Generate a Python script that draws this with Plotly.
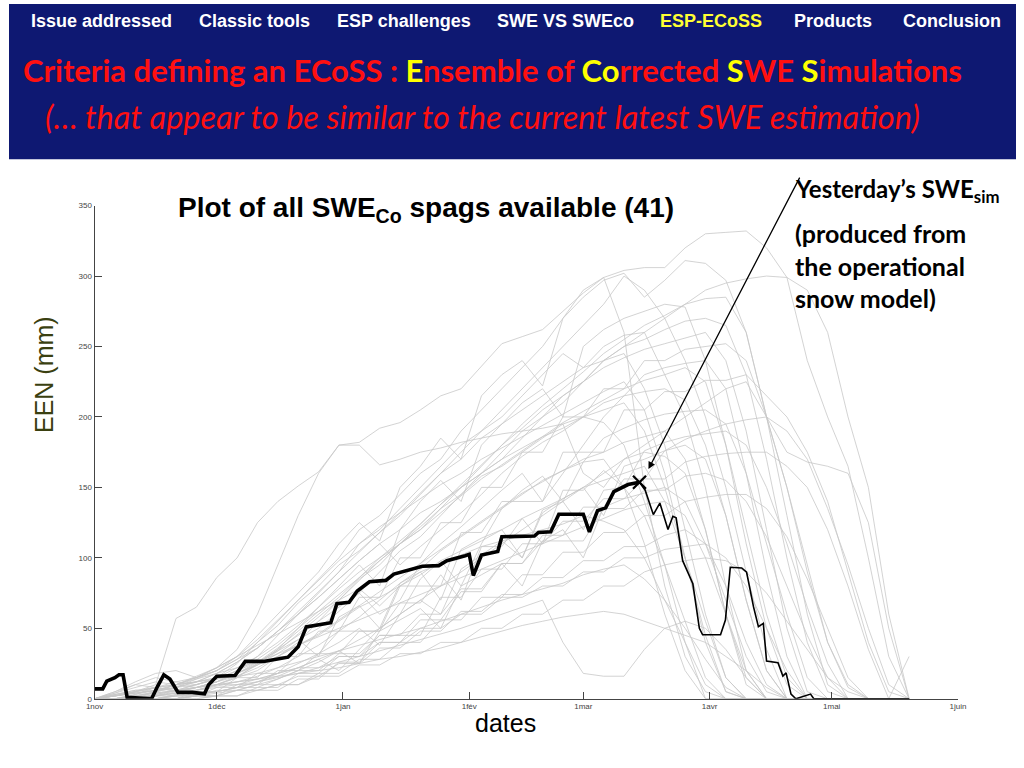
import plotly.graph_objects as go

# ---------------- data ----------------
tick_days = [0, 30, 61, 92, 120, 151, 181, 212]
tick_labels = ["1nov", "1déc", "1jan", "1fév", "1mar", "1avr", "1mai", "1juin"]
y_ticks = [0, 50, 100, 150, 200, 250, 300, 350]

# grid of days (days since 1 Nov) used by the grey spaghetti curves
spag_days = [0, 5, 10, 15, 20, 25, 30, 35, 40, 45,
             50, 55, 60, 65, 70, 75, 80, 85, 90, 95,
             100, 105, 110, 115, 120, 125, 130, 135, 140, 145,
             150, 155, 160, 165, 170, 175, 180, 185, 190, 195, 200]

spag_01 = [0, 2, 5, 10, 57, 65, 86, 100, 125, 140, 151, 161, 180, 182, 192, 196, 205, 215, 220, 236,
           252, 257, 262, 275, 288, 299, 304, 306, 306, 320, 330, 331, 332, 320, 299, 240, 200, 165, 100, 30, 0]
spag_02 = [0, 0, 3, 8, 12, 15, 20, 30, 45, 60, 75, 90, 110, 125, 112, 150, 165, 185, 170, 215,
           230, 240, 222, 270, 285, 297, 302, 285, 297, 311, 309, 297, 260, 200, 150, 90, 40, 10, 0, 0, 0]
spag_03 = [0, 0, 0, 5, 10, 12, 15, 25, 40, 55, 70, 85, 100, 120, 130, 145, 160, 170, 190, 205,
           220, 235, 250, 270, 290, 299, 260, 150, 80, 30, 5, 0, 0, 0, 0, 0, 0, 0, 0, 0, 0]
spag_04 = [0, 0, 2, 4, 6, 8, 10, 15, 25, 35, 45, 55, 70, 85, 95, 110, 120, 135, 150, 160,
           170, 185, 200, 210, 225, 240, 250, 260, 270, 280, 290, 295, 298, 300, 299, 290, 260, 200, 150, 60, 0]
spag_05 = [0, 0, 0, 0, 0, 2, 4, 6, 10, 14, 20, 26, 34, 42, 50, 60, 70, 80, 90, 100,
           110, 120, 130, 140, 150, 160, 170, 180, 190, 200, 210, 220, 225, 200, 175, 168, 165, 160, 125, 50, 0]
spag_06 = [0, 0, 0, 2, 5, 8, 12, 18, 25, 35, 50, 65, 80, 95, 80, 120, 140, 155, 140, 180,
           195, 210, 220, 200, 250, 262, 270, 275, 280, 278, 240, 180, 110, 50, 10, 0, 0, 0, 0, 0, 0]
spag_07 = [0, 0, 0, 0, 3, 6, 10, 15, 20, 30, 40, 55, 65, 75, 90, 105, 115, 130, 145, 160,
           175, 190, 200, 215, 225, 240, 250, 255, 262, 268, 270, 265, 230, 170, 100, 40, 5, 0, 0, 0, 0]
spag_08 = [0, 2, 5, 8, 10, 8, 12, 20, 30, 45, 60, 75, 90, 110, 120, 135, 150, 165, 180, 190,
           200, 215, 230, 245, 235, 250, 258, 260, 230, 200, 150, 80, 20, 0, 0, 0, 0, 0, 0, 0, 0]
spag_09 = [0, 0, 0, 0, 0, 5, 5, 15, 15, 30, 30, 48, 48, 72, 72, 100, 100, 125, 125, 150,
           150, 175, 175, 200, 200, 220, 220, 240, 240, 248, 250, 252, 240, 200, 150, 95, 40, 8, 0, 0, 0]
spag_10 = [0, 3, 6, 5, 10, 15, 20, 28, 40, 52, 68, 80, 95, 105, 118, 130, 145, 160, 170, 185,
           195, 205, 215, 225, 235, 240, 245, 220, 180, 120, 60, 15, 0, 0, 0, 0, 0, 0, 0, 0, 0]
spag_11 = [0, 0, 0, 3, 6, 10, 14, 18, 24, 32, 42, 50, 62, 75, 60, 70, 96, 110, 122, 135,
           148, 160, 140, 160, 180, 200, 215, 230, 235, 238, 240, 220, 160, 90, 30, 0, 0, 0, 0, 0, 0]
spag_12 = [0, 0, 0, 0, 2, 2, 8, 8, 18, 18, 32, 32, 48, 48, 48, 80, 80, 80, 118, 118,
           140, 140, 140, 175, 175, 175, 205, 205, 218, 218, 226, 226, 230, 215, 200, 175, 140, 90, 40, 5, 0]
spag_13 = [0, 0, 2, 5, 8, 14, 20, 28, 36, 48, 60, 72, 85, 98, 110, 95, 108, 120, 132, 145,
           160, 172, 182, 190, 200, 210, 215, 218, 220, 212, 180, 130, 70, 20, 0, 0, 0, 0, 0, 0, 0]
spag_14 = [0, 4, 10, 15, 12, 10, 15, 22, 30, 40, 52, 65, 78, 90, 100, 110, 122, 135, 145, 158,
           165, 175, 185, 195, 200, 205, 210, 190, 150, 100, 45, 5, 0, 0, 0, 0, 0, 0, 0, 0, 0]
spag_15 = [0, 0, 0, 0, 0, 3, 5, 8, 12, 18, 25, 32, 40, 50, 38, 60, 85, 98, 80, 110,
           135, 148, 158, 140, 168, 185, 192, 198, 202, 204, 205, 195, 160, 110, 60, 15, 0, 0, 0, 0, 0]
spag_16 = [0, 2, 4, 6, 8, 12, 18, 26, 36, 48, 60, 72, 85, 98, 110, 120, 132, 140, 150, 160,
           170, 178, 186, 192, 200, 196, 180, 140, 95, 40, 0, 0, 0, 0, 0, 0, 0, 0, 0, 0, 0]
spag_17 = [0, 0, 0, 2, 4, 6, 9, 12, 16, 22, 30, 38, 48, 58, 70, 82, 92, 105, 115, 125,
           135, 145, 155, 162, 170, 175, 182, 186, 190, 170, 120, 60, 15, 0, 0, 0, 0, 0, 0, 0, 0]
spag_18 = [0, 0, 3, 6, 10, 15, 22, 35, 60, 95, 130, 160, 180, 180, 166, 170, 175, 178, 182, 185,
           188, 190, 192, 195, 160, 150, 170, 175, 172, 160, 120, 60, 10, 0, 0, 0, 0, 0, 0, 0, 0]
spag_19 = [0, 0, 0, 0, 2, 3, 5, 8, 12, 16, 22, 28, 20, 35, 50, 60, 70, 60, 92, 102,
           112, 100, 132, 142, 150, 130, 165, 170, 176, 180, 170, 130, 70, 20, 0, 0, 0, 0, 0, 0, 0]
spag_20 = [0, 0, 0, 0, 0, 0, 2, 2, 8, 8, 18, 18, 30, 30, 45, 45, 45, 72, 72, 92,
           92, 110, 110, 126, 126, 142, 142, 156, 156, 168, 172, 174, 175, 175, 165, 150, 120, 80, 35, 0, 0]
spag_21 = [0, 3, 5, 8, 10, 12, 15, 18, 24, 30, 38, 45, 55, 65, 72, 80, 88, 98, 105, 112,
           120, 128, 135, 142, 150, 155, 160, 165, 140, 100, 55, 15, 0, 0, 0, 0, 0, 0, 0, 0, 0]
spag_22 = [0, 0, 0, 2, 2, 5, 5, 8, 8, 14, 20, 20, 32, 32, 45, 45, 60, 60, 78, 78,
           96, 96, 112, 112, 112, 135, 135, 148, 148, 158, 160, 155, 140, 115, 80, 45, 15, 0, 0, 0, 0]
spag_23 = [0, 5, 10, 8, 6, 10, 14, 20, 26, 34, 42, 30, 58, 66, 50, 82, 90, 70, 106, 114,
           120, 100, 134, 140, 120, 148, 150, 130, 95, 55, 15, 0, 0, 0, 0, 0, 0, 0, 0, 0, 0]
spag_24 = [0, 0, 0, 0, 0, 2, 2, 6, 6, 10, 10, 18, 18, 28, 28, 40, 40, 56, 56, 72,
           72, 88, 88, 104, 104, 118, 118, 130, 130, 140, 143, 145, 145, 135, 115, 85, 50, 15, 0, 0, 0]
spag_25 = [0, 2, 4, 6, 10, 14, 18, 22, 26, 32, 38, 44, 50, 56, 62, 68, 74, 80, 86, 92,
           98, 104, 110, 116, 122, 128, 134, 138, 140, 130, 100, 60, 20, 0, 0, 0, 0, 0, 0, 0, 0]
spag_26 = [0, 4, 8, 12, 10, 16, 22, 30, 38, 46, 54, 62, 70, 78, 66, 80, 90, 96, 102, 108,
           112, 116, 120, 124, 130, 126, 120, 100, 70, 40, 10, 0, 0, 0, 0, 0, 0, 0, 0, 0, 0]
spag_27 = [0, 0, 0, 0, 2, 2, 6, 6, 10, 10, 16, 16, 25, 25, 36, 36, 48, 48, 62, 62,
           74, 74, 86, 86, 98, 98, 108, 108, 116, 120, 110, 80, 40, 10, 0, 0, 0, 0, 0, 0, 0]
spag_28 = [0, 0, 2, 2, 6, 6, 10, 10, 14, 18, 22, 22, 30, 30, 40, 40, 50, 50, 60, 60,
           72, 72, 80, 80, 90, 90, 100, 100, 106, 108, 110, 100, 80, 50, 20, 0, 0, 0, 0, 0, 0]
spag_29 = [0, 2, 5, 8, 10, 12, 14, 16, 18, 22, 26, 30, 34, 38, 42, 46, 50, 55, 60, 65,
           70, 74, 78, 82, 88, 92, 95, 85, 70, 50, 28, 8, 0, 0, 0, 0, 0, 0, 0, 0, 0]
spag_30 = [0, 0, 0, 2, 4, 6, 8, 10, 12, 15, 18, 22, 26, 30, 34, 38, 42, 46, 50, 55,
           60, 65, 70, 40, 18, 16, 16, 35, 50, 55, 50, 35, 15, 0, 0, 0, 0, 0, 0, 0, 0]
spag_31 = [0, 3, 6, 8, 5, 8, 10, 12, 14, 16, 18, 20, 22, 25, 28, 30, 33, 36, 40, 44,
           48, 52, 55, 58, 60, 62, 60, 55, 50, 45, 40, 30, 20, 8, 0, 0, 0, 0, 0, 0, 0]
spag_32 = [0, 0, 0, 0, 0, 2, 2, 10, 10, 20, 20, 32, 32, 48, 48, 68, 68, 88, 70, 108,
           108, 128, 110, 148, 148, 162, 150, 176, 182, 186, 188, 190, 180, 150, 110, 65, 25, 0, 0, 0, 0]
spag_33 = [0, 0, 0, 2, 4, 8, 12, 18, 26, 36, 48, 60, 72, 86, 100, 112, 124, 138, 150, 165,
           180, 192, 205, 215, 225, 235, 242, 248, 252, 256, 260, 240, 190, 120, 50, 5, 0, 0, 0, 0, 0]
spag_34 = [0, 0, 0, 0, 3, 6, 10, 16, 24, 34, 46, 58, 70, 84, 98, 110, 124, 138, 152, 166,
           180, 195, 208, 220, 232, 245, 255, 265, 272, 280, 284, 285, 260, 200, 130, 60, 10, 0, 0, 0, 0]
spag_35 = [0, 5, 12, 18, 20, 15, 22, 30, 42, 56, 70, 84, 98, 110, 122, 132, 142, 152, 160, 170,
           178, 186, 194, 202, 210, 218, 225, 205, 160, 100, 40, 5, 0, 0, 0, 0, 0, 0, 0, 0, 0]
spag_36 = [0, 0, 2, 4, 6, 8, 12, 16, 22, 30, 38, 46, 56, 66, 76, 86, 96, 106, 116, 126,
           136, 146, 154, 162, 168, 170, 150, 110, 60, 20, 0, 0, 0, 0, 0, 0, 0, 0, 0, 0, 0]
spag_37 = [0, 0, 0, 0, 0, 0, 2, 2, 6, 6, 14, 14, 26, 26, 40, 40, 56, 56, 76, 76,
           96, 96, 116, 116, 136, 136, 156, 156, 176, 184, 190, 195, 198, 200, 190, 170, 135, 95, 50, 10, 0]
spag_38 = [0, 0, 0, 3, 6, 8, 10, 12, 14, 18, 22, 28, 34, 25, 48, 56, 64, 50, 80, 88,
           96, 80, 112, 120, 100, 136, 142, 146, 150, 140, 110, 70, 30, 5, 0, 0, 0, 0, 0, 0, 0]
spag_39 = [0, 0, 0, 0, 0, 2, 2, 6, 6, 10, 10, 16, 16, 24, 24, 32, 32, 40, 40, 50,
           50, 60, 60, 70, 70, 80, 80, 90, 95, 98, 100, 98, 90, 75, 55, 35, 15, 5, 0, 0, 30]
spag_40 = [0, 2, 4, 6, 8, 10, 14, 20, 28, 38, 50, 62, 74, 86, 98, 110, 120, 132, 144, 156,
           166, 176, 186, 196, 204, 212, 220, 226, 230, 235, 225, 180, 120, 60, 15, 0, 0, 0, 0, 0, 0]
spag_41 = [0, 0, 2, 5, 8, 12, 18, 26, 36, 48, 62, 76, 90, 104, 118, 132, 146, 160, 175, 190,
           205, 220, 235, 250, 265, 280, 300, 290, 270, 240, 200, 150, 90, 35, 0, 0, 0, 0, 0, 0, 0]

spags = [spag_01, spag_02, spag_03, spag_04, spag_05, spag_06, spag_07, spag_08, spag_09, spag_10,
         spag_11, spag_12, spag_13, spag_14, spag_15, spag_16, spag_17, spag_18, spag_19, spag_20,
         spag_21, spag_22, spag_23, spag_24, spag_25, spag_26, spag_27, spag_28, spag_29, spag_30,
         spag_31, spag_32, spag_33, spag_34, spag_35, spag_36, spag_37, spag_38, spag_39, spag_40,
         spag_41]

# current season (thick) up to yesterday
cur_days = [0, 2, 3, 5, 6, 7, 8, 14, 15.5, 17, 18.5, 20.5, 24, 27, 28, 30, 34.5, 37, 41.5, 47.5,
            50, 52, 58, 59.5, 62.5, 64.5, 67.5, 71.5, 73.5, 76.5, 80.5, 84.5, 86.5, 91, 92, 93,
            95, 99, 100, 108, 109, 112, 114, 120, 121.5, 123.5, 125.5, 127.5, 131, 133.8]
cur_swe = [7, 7, 12.5, 15, 17, 17, 1, 0, 9, 17, 14, 4.5, 4.5, 3.5, 10, 16, 16.5, 26.5, 26.5, 29.5,
           37, 51, 54, 67.5, 68.5, 76.5, 83, 84, 88.5, 91, 94, 94.5, 98, 101.5, 102.5, 87.5,
           102, 104.5, 115, 115.5, 118, 118.5, 131, 131, 118.5, 133.5, 135.5, 147, 152, 153.6]

# continuation after yesterday (thin black)
after_days = [133.8, 135.2, 137.2, 138.8, 140.8, 142, 142.8, 144.4, 146.9, 148.5, 149.3, 153.7,
              154.9, 156.1, 158.9, 160.1, 161.8, 163, 164.2, 165, 167.8, 169, 169.8, 171, 172.2,
              174.6, 175.8, 176.6, 200]
after_swe = [153.6, 148, 130.7, 138.9, 120.2, 129.5, 128.4, 98, 81.6, 50, 45.4, 45.4, 55.9, 93.3,
             92.8, 89.8, 65.2, 51.2, 53.5, 26.7, 25.5, 16.1, 18.4, 3.3, 0, 2.1, 3.3, 0, 0]

yesterday_day = [133.8]
yesterday_swe = [153.6]

nav_items = ["Issue addressed", "Classic tools", "ESP challenges", "SWE VS SWEco",
             "ESP-ECoSS", "Products", "Conclusion"]
nav_x = [20, 191, 331, 494, 660, 796, 907]
nav_col = ["white", "white", "white", "white", "#ffff33", "white", "white"]

# ---------------- figure ----------------
W, H = 1024, 768
def px(x):
    return x / W
def py(y):
    return 1 - y / H

fig = go.Figure()
for s in spags:
    fig.add_trace(go.Scatter(x=spag_days, y=s, mode="lines",
                             line=dict(color="rgb(200,200,200)", width=0.8),
                             hoverinfo="skip", showlegend=False))
fig.add_trace(go.Scatter(x=after_days, y=after_swe, mode="lines",
                         line=dict(color="black", width=1.6), showlegend=False))
fig.add_trace(go.Scatter(x=cur_days, y=cur_swe, mode="lines",
                         line=dict(color="black", width=3.6), showlegend=False))
fig.add_trace(go.Scatter(x=yesterday_day, y=yesterday_swe, mode="markers",
                         marker=dict(symbol="x-thin", size=13, line=dict(color="black", width=2.2)),
                         showlegend=False))

shapes = [dict(type="rect", xref="paper", yref="paper", x0=0, x1=1, y0=py(157), y1=1,
               fillcolor="#0e1872", line=dict(width=0), layer="below")]

ann = []
for t, x, c in zip(nav_items, nav_x, nav_col):
    ann.append(dict(text="<b>" + t + "</b>", x=px(x), y=py(17), xref="paper", yref="paper",
                    xanchor="left", yanchor="middle", showarrow=False,
                    font=dict(family="Liberation Sans, Arial", size=18, color=c)))
Y = "#ffff00"
title_txt = ("<b>Criteria defining an ECoSS : <span style='color:%s'>E</span>nsemble of "
             "<span style='color:%s'>Co</span>rrected <span style='color:%s'>S</span>WE "
             "<span style='color:%s'>S</span>imulations</b>") % (Y, Y, Y, Y)
ann.append(dict(text=title_txt, x=px(12), y=py(67), xref="paper", yref="paper",
                xanchor="left", yanchor="middle", showarrow=False,
                font=dict(family="Lato, Open Sans, sans-serif", size=31, color="#ff1010")))
ann.append(dict(text="<i>(… that appear to be similar to the current latest SWE estimation)</i>",
                x=px(35), y=py(114), xref="paper", yref="paper",
                xanchor="left", yanchor="middle", showarrow=False,
                font=dict(family="Lato, Open Sans, sans-serif", size=32.5, color="#ff1010")))
ann.append(dict(text="<b>Plot of all SWE<sub>Co</sub> spags available (41)</b>",
                x=px(424), y=py(208), xref="paper", yref="paper",
                xanchor="center", yanchor="middle", showarrow=False,
                font=dict(family="Liberation Sans, Arial", size=28, color="black")))
ann.append(dict(text="<b>Yesterday’s SWE<sub>sim</sub></b>",
                x=px(797), y=py(189), xref="paper", yref="paper",
                xanchor="left", yanchor="middle", showarrow=False,
                font=dict(family="Lato, Open Sans, sans-serif", size=24, color="black")))
ann.append(dict(text="<b>(produced from<br>the operational<br>snow model)</b>",
                x=px(797), y=py(265), xref="paper", yref="paper",
                xanchor="left", yanchor="middle", align="left", showarrow=False,
                font=dict(family="Lato, Open Sans, sans-serif", size=25, color="black")))
ann.append(dict(text="", x=136, y=163, xref="x", yref="y", ax=152, ay=-293,
                axref="pixel", ayref="pixel", showarrow=True, arrowhead=2, arrowsize=1.1,
                arrowwidth=1.3, arrowcolor="black"))
ann.append(dict(text="EEN (mm)", x=px(35), y=py(375), xref="paper", yref="paper",
                textangle=-90, xanchor="center", yanchor="middle", showarrow=False,
                font=dict(family="Liberation Sans, Arial", size=25, color="#3a4010")))
ann.append(dict(text="dates", x=px(505), y=py(728), xref="paper", yref="paper",
                xanchor="center", yanchor="middle", showarrow=False,
                font=dict(family="Liberation Sans, Arial", size=25, color="black")))

fig.update_layout(
    autosize=True,
    margin=dict(l=0, r=0, t=0, b=0),
    paper_bgcolor="white", plot_bgcolor="white",
    shapes=shapes, annotations=ann, showlegend=False,
    xaxis=dict(domain=[px(87), px(965)], range=[0, 212], tickvals=tick_days, ticktext=tick_labels,
               ticks="inside", ticklen=7, tickcolor="#444", showgrid=False, zeroline=False,
               showline=True, linecolor="#444", linewidth=1,
               tickfont=dict(family="Liberation Sans, Arial", size=8, color="#444")),
    yaxis=dict(domain=[py(703), py(204)], range=[0, 350], tickvals=y_ticks,
               ticks="inside", ticklen=7, tickcolor="#444", showgrid=False, zeroline=False,
               showline=True, linecolor="#444", linewidth=1,
               tickfont=dict(family="Liberation Sans, Arial", size=8, color="#444")),
)
fig.write_html("out.html",
               default_width="1024px;position:fixed;left:0;top:0",
               default_height="768px",
               config={"displayModeBar": False})
